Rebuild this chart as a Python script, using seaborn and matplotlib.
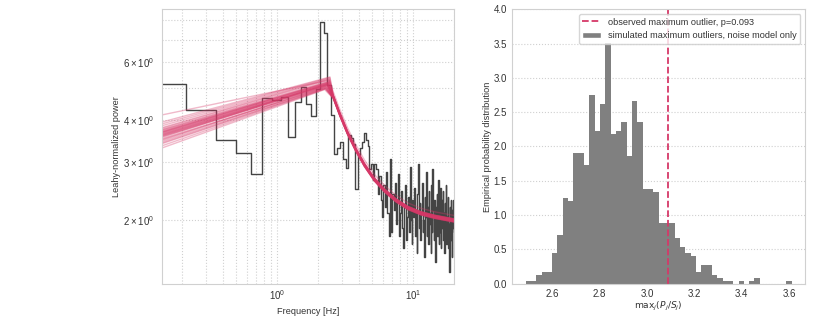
import numpy as np
import pandas as pd
import matplotlib.pyplot as plt
import seaborn as sns
from matplotlib.lines import Line2D
from matplotlib.patches import Patch

# Leahy-normalized power spectrum, resolution 1/7 Hz, up to 20 Hz
df_hz = 1 / 7
power = [5.14, 4.30, 3.49, 3.19, 2.76, 4.66, 4.59, 4.71, 3.57, 4.55,
         5.05, 4.48, 4.13, 4.98, 7.88, 7.34, 5.12, 4.15, 3.17, 3.30,
         3.45, 3.05, 2.88, 3.62, 3.55, 3.40, 2.48, 3.15, 3.30, 3.45,
         3.66, 3.50, 3.35, 2.85, 2.95, 2.65, 2.95, 2.85, 2.40, 2.72,
         2.30, 2.05, 2.55, 2.20, 2.80, 2.10, 1.80, 3.05, 1.85, 2.40,
         2.15, 2.60, 1.95, 2.30, 2.75, 1.80, 2.10, 2.45, 1.90, 1.65,
         2.20, 2.55, 1.75, 2.05, 2.35, 1.85, 2.90, 2.00, 1.70, 2.30,
         2.05, 2.50, 1.80, 2.15, 1.60, 2.40, 2.95, 1.90, 2.25, 1.75,
         2.10, 2.60, 1.85, 2.00, 1.55, 2.35, 2.05, 2.80, 1.80, 2.20,
         1.70, 2.45, 1.95, 2.10, 1.60, 2.55, 1.85, 2.85, 2.15, 1.75,
         2.30, 1.95, 1.50, 2.20, 2.40, 1.80, 2.05, 2.65, 1.70, 2.15,
         1.85, 2.50, 1.65, 2.00, 2.30, 1.90, 2.45, 1.75, 2.10, 1.60,
         2.25, 1.95, 2.55, 1.70, 2.05, 1.85, 2.35, 1.65, 1.95, 1.40,
         2.20, 1.80, 2.30, 1.75, 2.05, 1.55, 2.15, 1.90, 2.30, 1.85]
freq = df_hz * np.arange(1, len(power) + 1)

# posterior model samples: power at lowest freq, break freq, power at break
sample_lo = [3.55, 3.62, 3.70, 3.48, 3.78, 3.66, 3.40, 3.85, 3.58, 3.72,
             3.30, 3.95, 3.64, 3.52, 3.68, 3.75, 3.45, 3.60, 4.15, 3.35,
             3.80, 3.57, 3.69, 3.50, 3.63, 3.90, 3.42, 3.74, 3.60, 3.67]
sample_fb = [2.36, 2.33, 2.40, 2.30, 2.42, 2.35, 2.28, 2.44, 2.34, 2.38,
             2.25, 2.46, 2.36, 2.31, 2.39, 2.41, 2.29, 2.35, 2.43, 2.27,
             2.40, 2.32, 2.37, 2.30, 2.36, 2.45, 2.28, 2.39, 2.34, 2.37]
sample_pk = [5.15, 5.10, 5.22, 5.05, 5.30, 5.12, 4.98, 5.35, 5.08, 5.18,
             4.95, 5.40, 5.14, 5.02, 5.20, 5.25, 5.00, 5.11, 5.28, 4.97,
             5.32, 5.06, 5.16, 5.03, 5.13, 5.38, 4.99, 5.21, 5.09, 5.17]
sample_scale = [1.0, 0.995, 1.005, 0.99, 1.01, 1.0, 0.993, 1.008, 0.998, 1.003,
                0.988, 1.012, 1.0, 0.995, 1.005, 1.01, 0.99, 0.998, 1.035, 0.993,
                1.008, 0.995, 1.003, 0.99, 1.0, 1.01, 0.993, 1.005, 0.998, 1.0]
# shared high-frequency decline of the model
decline_freq = [2.6, 2.9, 3.3, 3.8, 4.4, 5.2, 6.2, 7.5, 9.2, 11.5, 14.5, 20.0]
decline_power = [4.71, 4.18, 3.68, 3.27, 2.94, 2.66, 2.46, 2.30, 2.18, 2.10, 2.05, 2.00]

# simulated maximum outliers (counts of 1000 simulations in 50 bins)
hist_range = (2.488, 3.611)
hist_counts = [1, 1, 3, 4, 4, 10, 16, 28, 27, 43,
               43, 39, 62, 50, 59, 79, 49, 50, 53, 42,
               60, 53, 31, 31, 30, 20, 20, 20, 15, 12,
               10, 9, 4, 6, 6, 3, 2, 1, 1, 0,
               1, 0, 1, 2, 0, 0, 0, 0, 0, 1]
observed_max = 3.09
p_value = 0.093

pink = '#d63868'

sns.set_style('whitegrid')
plt.rcParams['font.family'] = ['Liberation Sans', 'DejaVu Sans']
plt.rcParams['grid.color'] = '#d0d0d0'
plt.rcParams['grid.linestyle'] = ':'
plt.rcParams['grid.linewidth'] = 0.8
plt.rcParams['axes.edgecolor'] = '#d0d0d0'
plt.rcParams['xtick.labelsize'] = 7
plt.rcParams['ytick.labelsize'] = 7
plt.rcParams['xtick.major.pad'] = 0
plt.rcParams['ytick.major.pad'] = 0.5
plt.rcParams['axes.labelsize'] = 6.6
plt.rcParams['axes.labelpad'] = 1.2
plt.rcParams['legend.fontsize'] = 6.6
plt.rcParams['text.color'] = '#333333'
plt.rcParams['xtick.color'] = '#333333'
plt.rcParams['ytick.color'] = '#333333'
plt.rcParams['axes.labelcolor'] = '#333333'

fig = plt.figure(figsize=(8.3, 3.32), dpi=100)
ax1 = fig.add_axes([0.1948, 0.1455, 0.352, 0.8265])
ax2 = fig.add_axes([0.6172, 0.1455, 0.3527, 0.8265])

# left: spectrum and model samples
ax1.plot(freq, power, drawstyle='steps-mid', color='#444444', lw=1.0)
for lo, fb, pk, s in zip(sample_lo, sample_fb, sample_pk, sample_scale):
    xs = [freq[0], fb] + decline_freq
    ys = [lo, pk] + [p * s for p in decline_power]
    ax1.plot(xs, ys, color=pink, alpha=0.35, lw=1.0)
ax1.set_xscale('log')
ax1.set_yscale('log')
ax1.set_xlim(freq[0], freq[-1])
ax1.set_ylim(1.29, 8.63)
ax1.grid(True, which='both')
ax1.set_xlabel('Frequency [Hz]', labelpad=3)
ax1.set_ylabel('Leahy-normalized power')

# right: histogram of simulated outliers
n_bins = len(hist_counts)
bin_w = (hist_range[1] - hist_range[0]) / n_bins
hist_df = pd.DataFrame({'value': hist_range[0] + bin_w * (np.arange(n_bins) + 0.5),
                        'count': hist_counts})
sns.histplot(data=hist_df, x='value', weights='count', bins=n_bins,
             binrange=hist_range, stat='density', element='step', fill=True,
             color='gray', alpha=1, linewidth=0, ax=ax2)
ax2.axvline(observed_max, color=pink, ls='--', lw=1.3)
ax2.set_xlim(2.432, 3.667)
ax2.set_ylim(0, 4.0)
ax2.set_xticks([2.6, 2.8, 3.0, 3.2, 3.4, 3.6])
ax2.xaxis.grid(False)
ax2.set_xlabel(r'$\mathrm{max}_j(P_j/S_j)$')
ax2.set_ylabel('Empirical probability distribution')
handles = [Line2D([], [], color=pink, ls='--', lw=1.3),
           Patch(facecolor='gray')]
labels = [f'observed maximum outlier, p={p_value}',
          'simulated maximum outliers, noise model only']
ax2.legend(handles, labels, loc='upper right', frameon=True)

fig.savefig('out.png', dpi=100)
